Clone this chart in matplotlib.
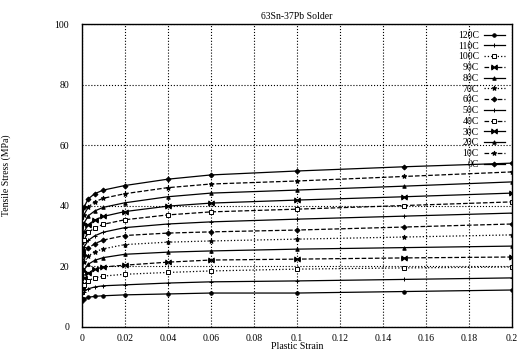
import matplotlib
matplotlib.use("Agg")
import matplotlib.pyplot as plt

strain = [0, 0.001, 0.003, 0.006, 0.01, 0.02, 0.04, 0.06, 0.1, 0.15, 0.2]

temps = ["0C", "10C", "20C", "30C", "40C", "50C", "60C", "70C", "80C", "90C", "100C", "110C", "120C"]
s0   = [34, 39.5, 42.3, 44.0, 45.2, 46.7, 48.8, 50.2, 51.5, 52.9, 54.1]
s10  = [31, 37.0, 39.6, 41.3, 42.5, 44.0, 46.0, 47.2, 48.2, 49.7, 51.2]
s20  = [28, 34.2, 36.7, 38.3, 39.5, 41.0, 43.0, 44.2, 45.2, 46.5, 47.9]
s30  = [25, 31.3, 33.8, 35.3, 36.5, 38.1, 39.9, 40.9, 41.9, 43.0, 44.2]
s40  = [23, 28.8, 31.2, 32.7, 33.9, 35.4, 37.0, 38.0, 38.9, 40.1, 41.3]
s50  = [21, 26.3, 28.6, 30.1, 31.3, 32.8, 34.0, 34.7, 35.6, 36.6, 37.6]
s60  = [19, 23.8, 26.0, 27.5, 28.7, 30.2, 31.0, 31.4, 32.0, 33.0, 34.0]
s70  = [17, 21.3, 23.4, 24.8, 25.8, 27.2, 28.0, 28.4, 29.0, 29.7, 30.4]
s80  = [15, 18.8, 20.7, 22.0, 22.9, 24.0, 24.7, 25.1, 25.7, 26.2, 26.7]
s90  = [13, 16.3, 17.9, 19.0, 19.8, 20.4, 21.4, 22.1, 22.4, 22.8, 23.1]
s100 = [11.5, 14.0, 15.3, 16.2, 16.8, 17.4, 18.0, 18.5, 19.1, 19.5, 19.8]
s110 = [10, 11.6, 12.6, 13.2, 13.6, 13.9, 14.5, 14.9, 15.2, 15.7, 16.2]
s120 = [8.5, 9.3, 9.8, 10.1, 10.3, 10.6, 10.9, 11.2, 11.2, 11.7, 12.2]
series = [s0, s10, s20, s30, s40, s50, s60, s70, s80, s90, s100, s110, s120]

xticks = [0, 0.02, 0.04, 0.06, 0.08, 0.1, 0.12, 0.14, 0.16, 0.18, 0.2]
xticklabels = ["0", "0.02", "0.04", "0.06", "0.08", "0.1", "0.12", "0.14", "0.16", "0.18", "0.2"]
yticks = [0, 20, 40, 60, 80, 100]

bow = r"$\bowtie$"
styles = {
    "0C":   dict(marker="D", ls="-", ms=2.5, mfc="black"),
    "10C":  dict(marker="*", ls="--", ms=3.5, mfc="black"),
    "20C":  dict(marker="^", ls="-", ms=2.5, mfc="black"),
    "30C":  dict(marker=bow, ls="-", ms=4),
    "40C":  dict(marker="s", ls="--", ms=3, mfc="white"),
    "50C":  dict(marker="+", ls="-", ms=3.5),
    "60C":  dict(marker="D", ls="--", ms=2.5, mfc="black"),
    "70C":  dict(marker="*", ls=":", ms=3.5, mfc="black"),
    "80C":  dict(marker="^", ls="-", ms=2.5, mfc="black"),
    "90C":  dict(marker=bow, ls="--", ms=4),
    "100C": dict(marker="s", ls=":", ms=3, mfc="white"),
    "110C": dict(marker="+", ls="-", ms=3.5),
    "120C": dict(marker="o", ls="-", ms=2.5, mfc="black"),
}

plt.rcParams["font.family"] = ["Liberation Serif", "DejaVu Serif"]
fig = plt.figure(figsize=(5.31, 3.55), dpi=100)
ax = fig.add_axes([0.154, 0.079, 0.81, 0.853])

handles = {}
for t, s in zip(temps, series):
    st = styles[t]
    (h,) = ax.plot(strain, s, color="black", lw=0.9, marker=st["marker"], ls=st["ls"],
                   ms=st["ms"], mfc=st.get("mfc", "black"), mec="black", mew=0.7, label=t)
    handles[t] = h

ax.set_xlim(0, 0.2)
ax.set_ylim(0, 100)
ax.set_xticks(xticks)
ax.set_xticklabels(xticklabels)
ax.set_yticks(yticks)
ax.tick_params(axis="x", labelsize=7, length=0, pad=5)
ax.tick_params(axis="y", labelsize=7, length=0, pad=9)
ax.grid(True, color="black", ls=":", lw=0.8)
for sp in ax.spines.values():
    sp.set_linewidth(1.0)

ax.set_title("63Sn-37Pb Solder", fontsize=7, pad=4)
ax.set_xlabel("Plastic Strain", fontsize=7, labelpad=-1)
ax.set_ylabel("Tensile Stress (MPa)", fontsize=7)
ax.yaxis.set_label_coords(-0.165, 0.5)

order = temps[::-1]
leg = ax.legend([handles[t] for t in order], order, loc="upper right", frameon=False,
                markerfirst=False, fontsize=7, labelspacing=0.18, handlelength=2.2,
                handletextpad=0.5, borderaxespad=0.3)

fig.savefig("out.png", dpi=100)
